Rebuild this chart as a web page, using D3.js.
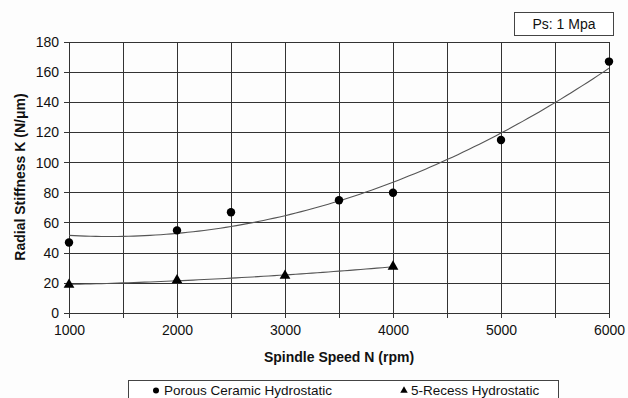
<!DOCTYPE html>
<html><head><meta charset="utf-8">
<script src="https://cdn.jsdelivr.net/npm/d3@7"></script>
<style>
body{margin:0;background:#fdfdfd;}
svg{display:block;font-family:"Liberation Sans",Arial,sans-serif;}
</style></head>
<body><svg id="c" width="628" height="398"></svg>
<script>
const speeds = [1000, 2000, 2500, 3500, 4000, 5000, 6000];
const porous = [47, 55, 67, 75, 80, 115, 167];
const recessSpeeds = [1000, 2000, 3000, 4000];
const recess = [19, 22, 25, 31];
const xTicks = [1000, 2000, 3000, 4000, 5000, 6000];
const yTicks = [0, 20, 40, 60, 80, 100, 120, 140, 160, 180];
const seriesNames = ["Porous Ceramic Hydrostatic", "5-Recess Hydrostatic"];
const note = "Ps: 1 Mpa";

const svg = d3.select("#c");
const x = d3.scaleLinear().domain([1000, 6000]).range([69, 609]);
const y = d3.scaleLinear().domain([0, 180]).range([313.3, 42]);

// quadratic least-squares trendline (like a spreadsheet polynomial trend)
function quadFit(xs, ys) {
  const n = xs.length; const s = [0,0,0,0,0], t = [0,0,0];
  for (let i = 0; i < n; i++) {
    const u = xs[i] / 1000;
    for (let k = 0; k < 5; k++) s[k] += Math.pow(u, k);
    for (let k = 0; k < 3; k++) t[k] += ys[i] * Math.pow(u, k);
  }
  const A = [[s[0], s[1], s[2], t[0]], [s[1], s[2], s[3], t[1]], [s[2], s[3], s[4], t[2]]];
  for (let i = 0; i < 3; i++) {
    for (let j = i + 1; j < 3; j++) {
      const f = A[j][i] / A[i][i];
      for (let k = i; k < 4; k++) A[j][k] -= f * A[i][k];
    }
  }
  const c = [0,0,0];
  for (let i = 2; i >= 0; i--) {
    let v = A[i][3];
    for (let k = i + 1; k < 3; k++) v -= A[i][k] * c[k];
    c[i] = v / A[i][i];
  }
  return u => { const w = u / 1000; return c[0] + c[1] * w + c[2] * w * w; };
}

const grid = svg.append("g").attr("stroke", "#333").attr("stroke-width", 1).attr("shape-rendering", "crispEdges");
d3.range(1000, 6001, 500).forEach(v => {
  grid.append("line").attr("x1", x(v)).attr("x2", x(v)).attr("y1", y(180)).attr("y2", y(0) + 5);
});
yTicks.forEach(v => {
  grid.append("line").attr("x1", x(1000) - 5).attr("x2", x(6000)).attr("y1", y(v)).attr("y2", y(v));
});

const xAxis = svg.append("g").attr("transform", `translate(0,${y(0)})`)
  .call(d3.axisBottom(x).tickValues(xTicks).tickSize(0).tickPadding(12).tickFormat(d3.format("d")));
xAxis.select(".domain").remove();
xAxis.selectAll("text").attr("font-size", 14).attr("fill", "#111").attr("font-family", "Liberation Sans, Arial");

const yAxis = svg.append("g").attr("transform", `translate(${x(1000)},0)`)
  .call(d3.axisLeft(y).tickValues(yTicks).tickSize(0).tickPadding(10));
yAxis.select(".domain").remove();
yAxis.selectAll("text").attr("font-size", 14).attr("fill", "#111").attr("font-family", "Liberation Sans, Arial");

svg.append("text").attr("x", 339).attr("y", 362).attr("text-anchor", "middle")
  .attr("font-size", 14).attr("font-weight", "bold").attr("fill", "#111").text("Spindle Speed N (rpm)");
svg.append("text").attr("transform", "translate(25,177) rotate(-90)").attr("text-anchor", "middle")
  .attr("font-size", 14).attr("font-weight", "bold").attr("fill", "#111").text("Radial Stiffness K (N/μm)");

// trendlines
const f1 = quadFit(speeds, porous), f2 = quadFit(recessSpeeds, recess);
const line = d3.line().x(d => x(d[0])).y(d => y(d[1])).curve(d3.curveLinear);
svg.append("path").attr("d", line(d3.range(1000, 6001, 50).map(v => [v, f1(v)])))
  .attr("fill", "none").attr("stroke", "#555").attr("stroke-width", 1.1);
svg.append("path").attr("d", line(d3.range(1000, 4001, 50).map(v => [v, f2(v)])))
  .attr("fill", "none").attr("stroke", "#555").attr("stroke-width", 1.1);

// markers
svg.append("g").selectAll("circle").data(speeds).join("circle")
  .attr("cx", d => x(d)).attr("cy", (d, i) => y(porous[i])).attr("r", 4.2).attr("fill", "#000");
const tri = d3.symbol().type(d3.symbolTriangle).size(50);
svg.append("g").selectAll("path").data(recessSpeeds).join("path")
  .attr("transform", (d, i) => `translate(${x(d)},${y(recess[i])})`).attr("d", tri).attr("fill", "#000");

// note box
svg.append("rect").attr("x", 514.5).attr("y", 12.5).attr("width", 99).attr("height", 23)
  .attr("fill", "#fff").attr("stroke", "#444");
svg.append("text").attr("x", 564).attr("y", 29).attr("text-anchor", "middle")
  .attr("font-size", 14).attr("fill", "#111").text(note);

// legend
svg.append("rect").attr("x", 128.5).attr("y", 380.5).attr("width", 430).attr("height", 30)
  .attr("fill", "#fff").attr("stroke", "#444");
svg.append("circle").attr("cx", 156).attr("cy", 390.5).attr("r", 3).attr("fill", "#000");
svg.append("text").attr("x", 164).attr("y", 394.5).attr("font-size", 13.5).attr("fill", "#111").text(seriesNames[0]);
svg.append("path").attr("transform", "translate(404,390.5)").attr("d", d3.symbol().type(d3.symbolTriangle).size(24)).attr("fill", "#000");
svg.append("text").attr("x", 411).attr("y", 394.5).attr("font-size", 13.5).attr("fill", "#111").text(seriesNames[1]);
</script></body></html>
